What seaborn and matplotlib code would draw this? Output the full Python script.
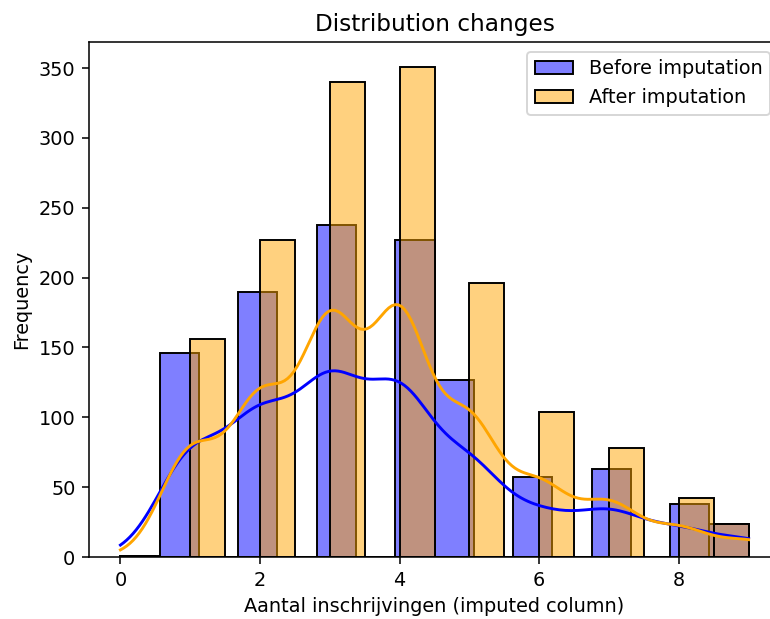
import numpy as np
import pandas as pd
import seaborn as sns
import matplotlib.pyplot as plt

# Counts per value of "Aantal inschrijvingen"
values = [0, 1, 2, 3, 4, 5, 6, 7, 8, 9]
counts_before = [1, 146, 190, 238, 227, 127, 57, 63, 38, 24]
counts_after = [1, 156, 227, 340, 351, 196, 104, 78, 42, 24]

# Expand counts back into raw observations so histplot/kde work as usual
before = pd.Series(np.repeat(values, counts_before), name='before')
after = pd.Series(np.repeat(values, counts_after), name='after')

# reference looks like a 100-dpi figure shown ~1.39x larger,
# cropped so the right spine falls just outside the image
dpi = 139
fig = plt.figure(figsize=(770 / dpi, 619 / dpi), dpi=dpi)
ax = fig.add_axes([0.1156, 0.100, 0.8974, 0.832])

sns.histplot(before, color='blue', kde=True, label='Before imputation', ax=ax)
sns.histplot(after, color='orange', kde=True, label='After imputation', ax=ax)

ax.set_title('Distribution changes')
ax.set_xlabel('Aantal inschrijvingen (imputed column)')
ax.set_ylabel('Frequency')
ax.spines['right'].set_visible(False)
ax.legend()

fig.savefig('out.png', dpi=dpi)
